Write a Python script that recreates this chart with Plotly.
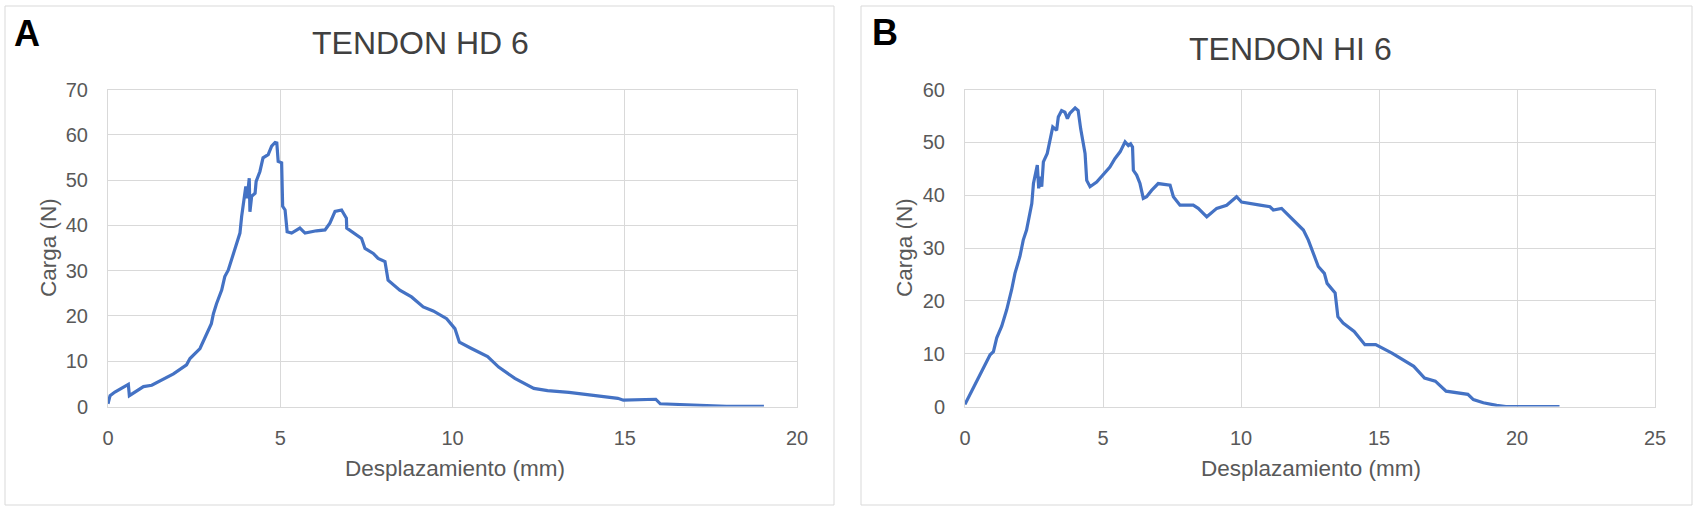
import plotly.graph_objects as go

# ---------------- data ----------------
hd6_x = [0.0, 0.06, 0.2, 0.54, 0.59, 0.62, 0.83, 1.03, 1.27, 1.5, 1.9, 2.28, 2.38, 2.67, 2.77,
         2.91, 3.0, 3.06, 3.15, 3.3, 3.39, 3.49, 3.64, 3.73, 3.83, 3.88, 3.95, 4.0, 4.04, 4.1,
         4.12, 4.17, 4.27, 4.3, 4.41, 4.5, 4.65, 4.75, 4.85, 4.9, 4.94, 5.04, 5.07, 5.14, 5.2,
         5.33, 5.57, 5.72, 6.05, 6.3, 6.44, 6.59, 6.78, 6.92, 6.93, 7.12, 7.36, 7.46, 7.7, 7.84,
         8.04, 8.13, 8.47, 8.81, 9.15, 9.44, 9.83, 10.07, 10.2, 10.55, 11.02, 11.34, 11.81,
         12.36, 12.76, 13.38, 13.85, 14.33, 14.8, 14.96, 15.9, 16.03, 16.5, 17.3, 17.95, 19.04]
hd6_y = [0.6, 2.4, 3.2, 4.7, 4.9, 2.4, 3.5, 4.4, 4.7, 5.6, 7.2, 9.2, 10.6, 12.8, 14.6,
         16.8, 18.3, 20.5, 22.7, 25.7, 28.7, 30.1, 33.5, 36.0, 38.3, 42.0, 45.6, 48.6, 46.0, 50.4,
         43.0, 46.4, 47.1, 49.7, 51.9, 54.9, 55.6, 57.5, 58.3, 58.2, 54.1, 53.8, 44.2, 43.4, 38.6,
         38.3, 39.4, 38.3, 38.8, 39.0, 40.5, 43.1, 43.4, 41.6, 39.4, 38.3, 37.1, 34.9, 33.8, 32.7,
         32.0, 27.9, 25.7, 24.2, 22.0, 21.1, 19.4, 17.2, 14.2, 12.8, 11.0, 8.7, 6.2,
         4.0, 3.5, 3.1, 2.7, 2.3, 1.8, 1.4, 1.6, 0.6, 0.5, 0.15, 0.05, 0.05]

hi6_x = [0.0, 0.18, 0.42, 0.66, 0.91, 1.03, 1.15, 1.33, 1.51, 1.69, 1.81, 1.99, 2.11, 2.23, 2.36,
         2.42, 2.48, 2.57, 2.62, 2.67, 2.72, 2.78, 2.84, 2.98, 3.08, 3.18, 3.32, 3.38, 3.5, 3.62,
         3.71, 3.8, 3.99, 4.1, 4.19, 4.35, 4.41, 4.53, 4.77, 5.25, 5.43, 5.62, 5.8, 5.92, 6.0,
         6.07, 6.1, 6.22, 6.34, 6.46, 6.58, 6.76, 7.0, 7.43, 7.55, 7.79, 8.27, 8.45, 8.76, 9.12,
         9.48, 9.84, 10.02, 10.45, 10.69, 11.05, 11.17, 11.47, 11.84, 12.26, 12.44, 12.62, 12.8,
         13.02, 13.12, 13.41, 13.51, 13.7, 14.1, 14.49, 14.88, 15.47, 15.67, 16.26, 16.65, 17.04,
         17.43, 18.22, 18.42, 18.78, 19.26, 19.6, 21.54]
hi6_y = [0.4, 2.3, 4.8, 7.3, 9.8, 10.4, 13.0, 15.2, 18.3, 22.1, 25.2, 28.4, 31.5, 33.4, 36.5,
         38.4, 42.2, 44.4, 45.7, 41.3, 43.5, 41.6, 46.3, 47.9, 50.4, 52.9, 52.3, 54.8, 56.0, 55.7,
         54.5, 55.5, 56.5, 56.0, 52.6, 47.9, 42.8, 41.6, 42.5, 45.3, 46.9, 48.2, 50.1, 49.4, 49.7,
         49.1, 44.7, 43.8, 42.2, 39.4, 39.7, 40.9, 42.2, 41.9, 39.7, 38.1, 38.1, 37.5, 35.9, 37.5,
         38.1, 39.7, 38.7, 38.4, 38.1, 37.8, 37.2, 37.5, 35.6, 33.4, 31.5, 29.0, 26.5,
         25.2, 23.3, 21.5, 17.0, 15.8, 14.2, 11.7, 11.7, 10.1, 9.5, 7.6, 5.4, 4.8,
         2.9, 2.3, 1.3, 0.7, 0.2, 0.0, 0.0]

hd6_xticks = [0, 5, 10, 15, 20]
hd6_yticks = [0, 10, 20, 30, 40, 50, 60, 70]
hi6_xticks = [0, 5, 10, 15, 20, 25]
hi6_yticks = [0, 10, 20, 30, 40, 50, 60]

title_a = "TENDON HD 6"
title_b = "TENDON HI 6"
x_title = "Desplazamiento (mm)"
y_title = "Carga (N)"

# ---------------- layout helpers ----------------
W, H = 1698, 512
FONT = "Liberation Sans, Arial, sans-serif"
LINE = "#4472C4"
GRID = "#D9D9D9"
TXT = "#595959"


def px(x):
    return x / W


def py(y):
    return 1 - y / H


fig = go.Figure()
fig.add_trace(go.Scatter(x=hd6_x, y=hd6_y, mode="lines", line=dict(color=LINE, width=3.2),
                         xaxis="x", yaxis="y", showlegend=False))
fig.add_trace(go.Scatter(x=hi6_x, y=hi6_y, mode="lines", line=dict(color=LINE, width=3.2),
                         xaxis="x2", yaxis="y2", showlegend=False))

axis_common = dict(showgrid=True, gridcolor=GRID, gridwidth=1, zeroline=False,
                   showline=True, linecolor=GRID, linewidth=1, mirror=True,
                   ticks="", tickfont=dict(family=FONT, size=20, color=TXT),
                   fixedrange=True, automargin=False)

ydom = [py(406.5), py(89.5)]
fig.update_layout(
    template="none",
    width=W, height=H, autosize=False,
    margin=dict(l=0, r=0, t=0, b=0, pad=0, autoexpand=False),
    paper_bgcolor="white", plot_bgcolor="white",
    xaxis=dict(domain=[px(108), px(797)], range=[0, 20], tickvals=hd6_xticks,
               anchor="y", ticklabelstandoff=13, **axis_common),
    yaxis=dict(domain=ydom, range=[0, 70], tickvals=hd6_yticks,
               anchor="x", ticklabelstandoff=15, **axis_common),
    xaxis2=dict(domain=[px(965), px(1655)], range=[0, 25], tickvals=hi6_xticks,
                anchor="y2", ticklabelstandoff=13, **axis_common),
    yaxis2=dict(domain=ydom, range=[0, 60], tickvals=hi6_yticks,
                anchor="x2", ticklabelstandoff=15, **axis_common),
)

# panel frames
for x0, x1 in [(5, 834), (861, 1692)]:
    fig.add_shape(type="rect", xref="paper", yref="paper",
                  x0=px(x0), x1=px(x1), y0=py(505), y1=py(6),
                  line=dict(color=GRID, width=1), fillcolor="rgba(0,0,0,0)", layer="below")


def ann(text, x, y, size, color, angle=0, bold=False):
    fig.add_annotation(text=f"<b>{text}</b>" if bold else text, xref="paper", yref="paper",
                       x=px(x), y=py(y), xanchor="center", yanchor="middle",
                       showarrow=False, textangle=angle,
                       font=dict(family=FONT, size=size, color=color))


ann("A", 27, 33, 36, "black", bold=True)
ann("B", 885, 32, 36, "black", bold=True)
ann(title_a, 420, 43, 32, "#404040")
ann(title_b, 1290, 49, 32, "#404040")
ann(x_title, 455, 468, 22.5, TXT)
ann(x_title, 1311, 468, 22.5, TXT)
ann(y_title, 48, 248, 22.5, TXT, angle=-90)
ann(y_title, 904, 248, 22.5, TXT, angle=-90)

fig.write_html(
    "out.html",
    config={"displayModeBar": False, "responsive": False},
    post_script="document.body.style.margin='0';document.body.style.overflow='hidden';",
)
